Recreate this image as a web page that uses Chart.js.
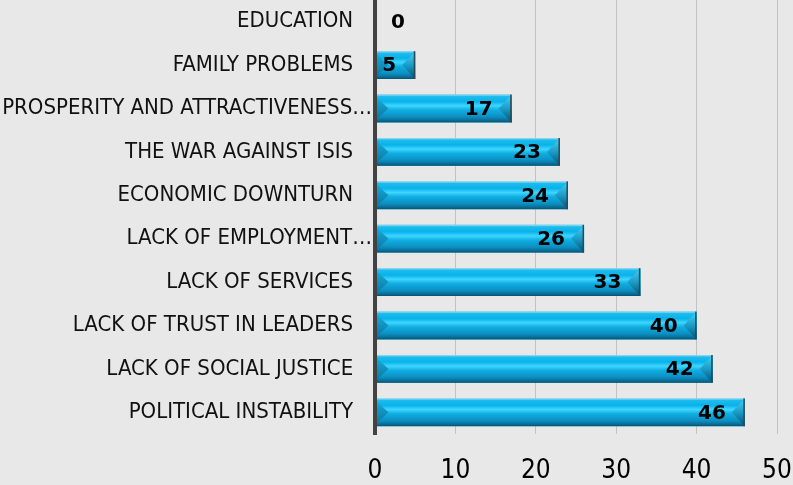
<!DOCTYPE html>
<html>
<head>
<meta charset="utf-8">
<script src="https://cdn.jsdelivr.net/npm/chart.js@4"></script>
<style>
    html, body { margin: 0; padding: 0; background: #e8e8e8; }
    #chartWrap { width: 793px; height: 485px; }
</style>
</head>
<body>
<div id="chartWrap"><canvas id="reasonsChart" width="793" height="485"></canvas></div>
<script>
const categories = [
    'EDUCATION',
    'FAMILY PROBLEMS',
    'PROSPERITY AND ATTRACTIVENESS…',
    'THE WAR AGAINST ISIS',
    'ECONOMIC DOWNTURN',
    'LACK OF EMPLOYMENT…',
    'LACK OF SERVICES',
    'LACK OF TRUST IN LEADERS',
    'LACK OF SOCIAL JUSTICE',
    'POLITICAL INSTABILITY'
];
const values = [0, 5, 17, 23, 24, 26, 33, 40, 42, 46];
const xMin = 0;
const xMax = 50;
const xStep = 10;

document.addEventListener('DOMContentLoaded', (event) => {
    // 3d look for the bars + value labels
    const bevelPlugin = {
        id: 'bevel',
        afterDatasetsDraw(chart) {
            const ctx = chart.ctx;
            const meta = chart.getDatasetMeta(0);
            ctx.save();
            meta.data.forEach((bar, i) => {
                const p = bar.getProps(['x', 'y', 'base', 'height'], true);
                const top = p.y - p.height / 2;
                const bottom = p.y + p.height / 2;
                const w = p.x - p.base;

                if (w > 0) {
                    const g = ctx.createLinearGradient(0, top, 0, bottom);
                    g.addColorStop(0, '#a9def2');
                    g.addColorStop(0.07, '#1ebcec');
                    g.addColorStop(0.25, '#08b2ea');
                    g.addColorStop(0.4, '#3fd6ff');
                    g.addColorStop(0.55, '#10aee2');
                    g.addColorStop(0.8, '#0c8fc2');
                    g.addColorStop(0.93, '#0a6c93');
                    g.addColorStop(1, '#084f6e');
                    ctx.fillStyle = g;
                    ctx.fillRect(p.base, top, w, p.height);

                    const b = Math.min(13, w / 2);

                    // left end
                    const gl = ctx.createLinearGradient(0, top, 0, bottom);
                    gl.addColorStop(0, '#1ab2e2');
                    gl.addColorStop(1, '#0a6f98');
                    ctx.fillStyle = gl;
                    ctx.beginPath();
                    ctx.moveTo(p.base, top + 2);
                    ctx.lineTo(p.base + b, p.y);
                    ctx.lineTo(p.base, bottom - 2);
                    ctx.closePath();
                    ctx.fill();

                    // right end
                    const gr = ctx.createLinearGradient(0, top, 0, bottom);
                    gr.addColorStop(0, '#4fd0f0');
                    gr.addColorStop(0.5, '#1a9cc8');
                    gr.addColorStop(1, '#064e6c');
                    ctx.fillStyle = gr;
                    ctx.beginPath();
                    ctx.moveTo(p.x, top);
                    ctx.lineTo(p.x - b, p.y);
                    ctx.lineTo(p.x, bottom);
                    ctx.closePath();
                    ctx.fill();

                    ctx.fillStyle = '#2a4a5a';
                    ctx.fillRect(p.x - 1.5, top, 1.5, p.height);
                }

                ctx.fillStyle = '#000';
                ctx.font = 'bold 20px "DejaVu Sans"';
                ctx.textBaseline = 'middle';
                if (values[i] > 0) {
                    ctx.textAlign = 'right';
                    ctx.fillText(values[i], p.x - 19, p.y + 1);
                } else {
                    ctx.textAlign = 'left';
                    ctx.fillText(values[i], p.base + 16, p.y + 1);
                }
            });
            ctx.restore();
        }
    };

    const ctxChart = document.getElementById('reasonsChart').getContext('2d');

    const reasonsChart = new Chart(ctxChart, {
        type: 'bar',
        data: {
            labels: categories,
            datasets: [{
                data: values,
                backgroundColor: '#12bdec',
                borderWidth: 0,
                barPercentage: 0.8,
                categoryPercentage: 0.8
            }]
        },
        plugins: [bevelPlugin],
        options: {
            indexAxis: 'y',
            responsive: false,
            animation: false,
            layout: {
                padding: { top: 0, right: 16, bottom: 0, left: 0 }
            },
            plugins: {
                legend: { display: false },
                tooltip: { enabled: false }
            },
            scales: {
                x: {
                    min: xMin,
                    max: xMax,
                    afterFit: (scale) => {
                        scale.height = 51;
                        scale.paddingLeft = 0;
                        scale.paddingRight = 0;
                    },
                    ticks: {
                        stepSize: xStep,
                        color: '#000',
                        padding: 22,
                        font: { family: '"DejaVu Sans Condensed", "DejaVu Sans"', size: 26 }
                    },
                    grid: {
                        color: '#c2c2c2',
                        drawTicks: false
                    },
                    border: { display: false }
                },
                y: {
                    afterFit: (scale) => {
                        scale.width = 375;
                        scale.paddingTop = 0;
                        scale.paddingBottom = 0;
                    },
                    grid: { display: false, drawTicks: false },
                    border: { color: '#424242', width: 4, z: 1 },
                    ticks: {
                        color: '#111',
                        padding: 3,
                        font: { family: '"DejaVu Sans Condensed", "DejaVu Sans"', size: 22 },
                        callback: function(value, index) {
                            const label = categories[index];
                            // long labels run up to the axis, the rest keep a gap
                            return label.endsWith('…') ? label : label + '   ';
                        }
                    }
                }
            }
        }
    });
});
</script>
</body>
</html>
